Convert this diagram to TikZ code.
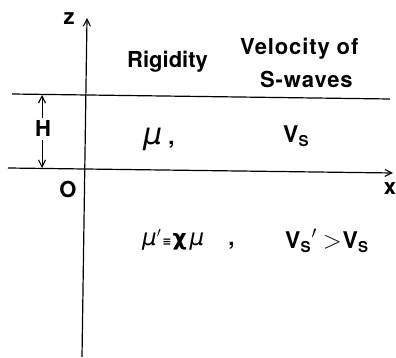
\documentclass[tikz,border=0pt]{standalone}
\usepackage{fontspec}
\setmainfont{TeX Gyre Heros}
\newfontfamily\symfont{DejaVu Sans}
\newfontfamily\grkfont{DejaVu Sans}
\usetikzlibrary{arrows.meta}
\newcommand{\subS}{\raisebox{-4pt}{\fontsize{15}{16}\selectfont S}}
\newcommand{\gmu}[1]{{\grkfont\mdseries\itshape\fontsize{#1}{#1}\selectfont μ}}
\begin{document}
\begin{tikzpicture}[x=1pt,y=-1pt,
  lbl/.style={font=\bfseries\fontsize{22}{24}\selectfont, inner sep=0pt},
  sp/.style={font=\bfseries\fontsize{22}{24}\selectfont\addfontfeature{LetterSpace=4}, inner sep=0pt},
  ax/.style={line width=1.2pt},
  tip/.style={-{Straight Barb[length=7pt,width=7pt,line width=1.1pt]}}]
\useasboundingbox (0,0) rectangle (396,358);
% coordinates
\coordinate (ztop) at (87,18);
\coordinate (zbot) at (82,357);
\coordinate (tl) at (12,94);
\coordinate (tr) at (390,99);
\coordinate (xl) at (8,168);
\coordinate (xr) at (393,173);
\coordinate (ha) at (42,95);
\coordinate (hb) at (42,168);
% axes and lines
\draw[ax,tip] (zbot) -- (ztop);
\draw[ax] (tl) -- (tr);
\draw[ax,tip] (xl) -- (xr);
% H dimension
\node[lbl,anchor=base] (H) at (43,137) {H};
\draw[line width=1pt,tip] (H.north) ++(-1,-3) coordinate (h1) -- (ha);
\draw[line width=1pt,tip] (H.south) ++(-1,3) coordinate (h2) -- (hb);
% labels
\node[lbl,anchor=base] (z) at (69,25) {z};
\node[lbl,anchor=base] (O) at (68,197) {O};
\node[lbl,anchor=base] (x) at (390,195) {x};
\node[lbl,anchor=base west] (rig) at (127,68) {Rigidity};
\node[sp,anchor=base west] (vel1) at (240,55) {Velocity of};
\node[sp,anchor=base west] (vel2) at (260,88) {S-waves};
\node[lbl,anchor=base west] (mu) at (143,145) {\gmu{30}\hspace{6pt},};
\node[lbl,anchor=base west] (vs) at (283,143) {\fontsize{23}{24}\selectfont V\subS};
\node[lbl,anchor=base west] (mu2) at (142,245) {\gmu{23}$'${\symfont\fontsize{11}{12}\selectfont\hspace{1pt}≡\hspace{1pt}}{\grkfont\bfseries\fontsize{22}{24}\selectfont χ}\hspace{3pt}\gmu{23}\hspace{24pt},};
\node[lbl,anchor=base west] (vs2) at (285,248) {\fontsize{23}{24}\selectfont V\subS\hspace{1pt}$'$\hspace{6pt}{\fontsize{26}{26}\selectfont $>$}\hspace{1pt}V\subS};
\end{tikzpicture}
\end{document}
